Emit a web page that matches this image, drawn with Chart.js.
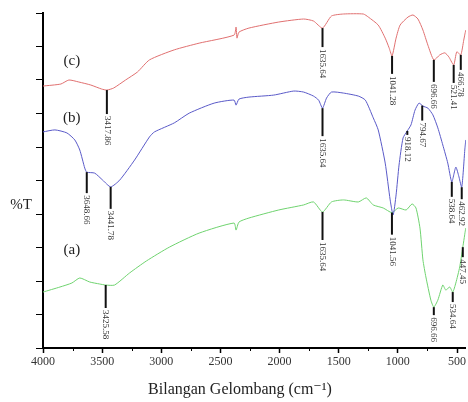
<!DOCTYPE html>
<html>
<head>
<meta charset="utf-8">
<script src="https://cdn.jsdelivr.net/npm/chart.js@4.4.0/dist/chart.umd.min.js"></script>
<style>
  html, body { margin: 0; padding: 0; background: #fff; }
  #wrap { width: 468px; height: 402px; }
</style>
</head>
<body>
<div id="wrap"><canvas id="ftirChart" width="468" height="402"></canvas></div>
<script>
// x axis ticks (wavenumber, cm-1)
const xTicks = [4000, 3500, 3000, 2500, 2000, 1500, 1000, 500];

// spectrum (c)
const cWave = [4000, 3849, 3781, 3697, 3596, 3504, 3460, 3403, 3302, 3201, 3100, 2890, 2680, 2385, 2368, 2360, 2343, 2259, 2007, 1797, 1713, 1637, 1561, 1460, 1292, 1250, 1166, 1107, 1074, 1049, 1015, 981, 914, 872, 830, 788, 746, 696, 645, 603, 569, 528, 502, 468, 443, 426];
const cT = [78.2, 78.8, 80.0, 79.4, 78.5, 77.3, 77.0, 77.6, 80.0, 82.4, 86.0, 89.0, 91.0, 93.4, 95.8, 92.5, 94.3, 95.5, 97.3, 98.2, 97.6, 95.5, 99.1, 99.7, 99.7, 98.8, 96.4, 92.5, 89.6, 87.2, 92.5, 96.4, 98.8, 99.4, 98.2, 94.9, 90.4, 86.0, 87.5, 88.1, 86.9, 84.5, 88.4, 87.5, 91.9, 94.9];

// spectrum (b)
const bWave = [4000, 3899, 3798, 3731, 3689, 3647, 3630, 3563, 3495, 3428, 3352, 3226, 3100, 3058, 2890, 2764, 2553, 2385, 2368, 2343, 2259, 2049, 1881, 1797, 1713, 1670, 1637, 1603, 1561, 1460, 1334, 1275, 1208, 1166, 1107, 1065, 1040, 1015, 990, 956, 920, 889, 855, 821, 788, 746, 704, 662, 620, 578, 544, 510, 485, 460, 434, 426];
const bT = [64.5, 65.1, 64.2, 62.1, 59.1, 53.7, 52.5, 52.2, 50.1, 48.1, 50.1, 56.1, 63.0, 64.5, 67.2, 70.1, 73.1, 74.0, 72.5, 74.3, 74.9, 75.5, 76.7, 76.4, 75.2, 74.0, 71.6, 74.6, 76.4, 76.1, 75.2, 74.0, 68.7, 65.1, 55.2, 44.2, 39.7, 45.7, 54.6, 62.7, 64.8, 66.6, 71.0, 73.1, 72.2, 71.6, 69.6, 65.7, 60.6, 55.2, 49.6, 54.0, 51.3, 48.0, 59.1, 62.1];

// spectrum (a)
const aWave = [4000, 3857, 3756, 3689, 3605, 3521, 3470, 3395, 3268, 3125, 2932, 2680, 2385, 2368, 2343, 2259, 2007, 1797, 1713, 1637, 1561, 1460, 1334, 1267, 1208, 1124, 1050, 997, 930, 880, 847, 813, 788, 763, 721, 696, 662, 620, 595, 561, 536, 510, 477, 451, 426];
const aT = [16.7, 18.2, 19.4, 20.9, 19.7, 19.1, 18.8, 18.8, 22.4, 26.0, 30.1, 34.3, 37.3, 35.2, 37.6, 38.8, 41.2, 42.7, 43.6, 40.6, 43.6, 44.2, 43.6, 44.8, 42.7, 41.8, 40.4, 41.8, 41.2, 43.0, 41.8, 35.8, 26.3, 21.2, 14.3, 12.2, 14.3, 18.8, 17.3, 18.2, 16.7, 19.4, 24.2, 30.1, 35.8];

// marked peaks
const cPeaks = [3460, 1637, 1049, 696, 528, 468];
const cPeakLabels = ['3417.86', '1635.64', '1041.28', '696.66', '521.41', '466.78'];
const bPeaks = [3630, 3428, 1637, 920, 794, 544, 460];
const bPeakLabels = ['3648.66', '3441.78', '1635.64', '918.12', '794.67', '538.64', '462.92'];
const aPeaks = [3470, 1637, 1050, 696, 536, 451];
const aPeakLabels = ['3425.58', '1635.64', '1041.56', '696.66', '534.64', '447.45'];

// series tags
const tagNames = ['(c)', '(b)', '(a)'];
const tagWave = [3756, 3756, 3756];
const tagT = [85.7, 68.7, 29.3];

// length of the peak marker lines (px)
const cDrop = [24, 19, 18, 22, 18, 15];
const bDrop = [21, 22, 28, 4, 15, 15, 12];
const aDrop = [23, 28, 22, 8, 10, 10];

const serif = "'Liberation Serif', 'DejaVu Serif', serif";

function toPoints(xs, ys) {
    return xs.map((x, i) => ({ x: x, y: ys[i] }));
}

function interp(xs, ys, w) {
    for (let i = 0; i < xs.length - 1; i++) {
        if (xs[i] >= w && w >= xs[i + 1]) {
            const f = (xs[i] - w) / (xs[i] - xs[i + 1]);
            return ys[i] + f * (ys[i + 1] - ys[i]);
        }
    }
    return ys[ys.length - 1];
}

const peakGroups = [
    { wave: cWave, t: cT, peaks: cPeaks, labels: cPeakLabels, drop: cDrop },
    { wave: bWave, t: bT, peaks: bPeaks, labels: bPeakLabels, drop: bDrop },
    { wave: aWave, t: aT, peaks: aPeaks, labels: aPeakLabels, drop: aDrop }
];

// Extra drawing: minor ticks, peak markers, tags, axis titles
const annotate = {
    id: 'annotate',
    afterDraw(chart) {
        const ctx = chart.ctx;
        const xs = chart.scales.x;
        const ys = chart.scales.y;
        const area = chart.chartArea;

        ctx.save();
        // minor ticks between the labelled ones
        ctx.strokeStyle = '#000';
        ctx.lineWidth = 1;
        for (let i = 0; i < xTicks.length; i++) {
            const v = xTicks[i] - 250;
            if (v < xs.min) continue;
            const px = Math.round(xs.getPixelForValue(v)) + 0.5;
            ctx.beginPath();
            ctx.moveTo(px, area.bottom);
            ctx.lineTo(px, area.bottom + 3);
            ctx.stroke();
        }

        // peak markers
        peakGroups.forEach(g => {
            g.peaks.forEach((w, i) => {
                const px = xs.getPixelForValue(w);
                const py = ys.getPixelForValue(interp(g.wave, g.t, w));
                const end = py + g.drop[i];
                ctx.strokeStyle = '#111';
                ctx.lineWidth = 2;
                ctx.beginPath();
                ctx.moveTo(px, py);
                ctx.lineTo(px, end);
                ctx.stroke();

                ctx.save();
                ctx.translate(px, end + 2);
                ctx.rotate(Math.PI / 2);
                ctx.fillStyle = '#333';
                ctx.font = '9px ' + serif;
                ctx.textAlign = 'left';
                ctx.textBaseline = 'middle';
                ctx.fillText(g.labels[i], 0, 0);
                ctx.restore();
            });
        });

        // series tags
        ctx.fillStyle = '#222';
        ctx.font = '15px ' + serif;
        ctx.textAlign = 'center';
        ctx.textBaseline = 'middle';
        tagNames.forEach((name, i) => {
            ctx.fillText(name, xs.getPixelForValue(tagWave[i]), ys.getPixelForValue(tagT[i]));
        });

        // axis titles
        ctx.font = '15px ' + serif;
        ctx.fillText('%T', 21, 205);
        ctx.font = '16px ' + serif;
        ctx.fillText('Bilangan Gelombang (cm\u207B\u00B9)', 240, 390);
        ctx.restore();
    }
};

const ctx = document.getElementById('ftirChart').getContext('2d');
const ftirChart = new Chart(ctx, {
    type: 'line',
    data: {
        datasets: [
            {
                label: '(c)',
                data: toPoints(cWave, cT),
                borderColor: '#e07070',
                borderWidth: 1,
                pointRadius: 0,
                tension: 0.2
            },
            {
                label: '(b)',
                data: toPoints(bWave, bT),
                borderColor: '#5a5ac8',
                borderWidth: 1,
                pointRadius: 0,
                tension: 0.2
            },
            {
                label: '(a)',
                data: toPoints(aWave, aT),
                borderColor: '#6fd36f',
                borderWidth: 1,
                pointRadius: 0,
                tension: 0.2
            }
        ]
    },
    options: {
        responsive: false,
        animation: false,
        devicePixelRatio: 1,
        layout: {
            padding: { top: 13, left: 0, right: 0, bottom: 0 },
            autoPadding: false
        },
        plugins: {
            legend: { display: false },
            tooltip: { enabled: false }
        },
        scales: {
            x: {
                type: 'linear',
                reverse: true,
                min: 425,
                max: 4000,
                afterBuildTicks: (scale) => {
                    scale.ticks = xTicks.map(v => ({ value: v }));
                },
                afterFit: (scale) => { scale.height = 54; },
                ticks: {
                    autoSkip: false,
                    maxRotation: 0,
                    padding: 2,
                    color: '#333',
                    font: { family: serif, size: 12 },
                    callback: (value) => String(value)
                },
                grid: {
                    drawOnChartArea: false,
                    tickLength: 5,
                    color: '#000',
                    tickWidth: 1.5
                },
                border: { color: '#000', width: 2 }
            },
            y: {
                min: 0,
                max: 100,
                afterFit: (scale) => { scale.width = 43; },
                ticks: { stepSize: 10, display: false },
                grid: {
                    drawOnChartArea: false,
                    tickLength: 7,
                    color: '#000'
                },
                border: { color: '#000', width: 2 }
            }
        }
    },
    plugins: [annotate]
});
</script>
</body>
</html>
